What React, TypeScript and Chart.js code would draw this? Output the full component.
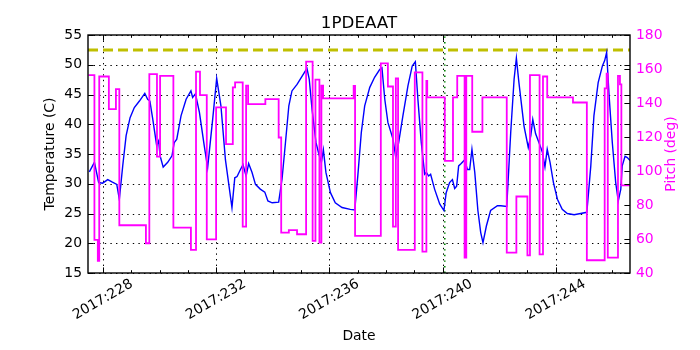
import React, { useEffect, useRef } from 'react';
import { Chart, registerables } from 'chart.js';

Chart.register(...registerables);

const FONT = '"DejaVu Sans", sans-serif';
const TICK_SIZE = 13.9;
const LABEL_SIZE = 13.9;
const TITLE_SIZE = 16.7;

const TITLE = '1PDEAAT';
const X_LABEL = 'Date';
const Y_LABEL = 'Temperature (C)';
const Y2_LABEL = 'Pitch (deg)';
const YEAR = '2017';

const X_MIN = 227.473;
const X_MAX = 246.625;
const X_MAJOR_TICKS = [228, 232, 236, 240, 244];
const X_MINOR_TICKS = [229, 230, 231, 233, 234, 235, 237, 238, 239, 241, 242, 243, 245, 246];
const TEMP_TICKS = [15, 20, 25, 30, 35, 40, 45, 50, 55];
const PITCH_TICKS = [40, 60, 80, 100, 120, 140, 160, 180];

const TEMP_LIMIT = 52.5;
const MARKER_DAY = 240.08;

const tempDays = [
  227.52, 227.70, 227.85, 227.99, 228.17, 228.32, 228.49, 228.58, 228.70, 228.82,
  228.96, 229.11, 229.29, 229.48, 229.58, 229.66, 229.76, 229.90, 229.97, 230.02,
  230.13, 230.29, 230.44, 230.52, 230.61, 230.76, 230.94, 231.11, 231.17, 231.27,
  231.41, 231.58, 231.70, 231.88, 232.02, 232.17, 232.33, 232.56, 232.66, 232.74,
  232.86, 232.95, 233.06, 233.15, 233.27, 233.39, 233.56, 233.72, 233.83, 233.98,
  234.21, 234.33, 234.45, 234.57, 234.68, 234.86, 235.04, 235.21, 235.29, 235.39,
  235.53, 235.63, 235.72, 235.79, 235.88, 236.04, 236.21, 236.45, 236.74, 236.90,
  237.01, 237.13, 237.25, 237.43, 237.60, 237.78, 237.86, 237.96, 238.07, 238.25,
  238.35, 238.45, 238.60, 238.78, 238.93, 239.04, 239.13, 239.25, 239.37, 239.43,
  239.51, 239.58, 239.72, 239.90, 240.05, 240.13, 240.25, 240.35, 240.43, 240.50,
  240.57, 240.66, 240.78, 240.88, 240.96, 241.04, 241.14, 241.25, 241.35, 241.43,
  241.55, 241.70, 241.94, 242.06, 242.27, 242.41, 242.53, 242.61, 242.70, 242.88,
  243.03, 243.12, 243.19, 243.29, 243.41, 243.53, 243.62, 243.70, 243.80, 243.92,
  244.06, 244.23, 244.41, 244.65, 244.88, 245.10, 245.24, 245.35, 245.50, 245.65,
  245.73, 245.80, 245.88, 246.00, 246.12, 246.21, 246.30, 246.35, 246.45, 246.53,
  246.625,
];
const tempValues = [
  32.0, 33.6, 30.2, 30.1, 30.7, 30.3, 29.9, 27.4, 33.0, 38.1,
  41.1, 42.8, 43.9, 45.2, 44.2, 43.9, 40.9, 36.4, 37.2, 34.7,
  32.8, 33.6, 34.7, 36.9, 37.5, 41.4, 44.2, 45.6, 44.5, 45.1,
  42.0, 36.4, 32.7, 40.9, 47.7, 43.1, 34.0, 26.0, 31.0, 31.2,
  32.4, 33.2, 31.3, 33.4, 31.9, 29.9, 29.1, 28.6, 27.1, 26.8,
  26.9, 30.8, 36.9, 43.1, 45.6, 46.7, 48.1, 49.4, 47.6, 42.5,
  36.9, 35.0, 33.6, 35.7, 31.9, 28.5, 26.8, 26.0, 25.7, 25.6,
  31.5, 38.6, 43.1, 46.2, 47.9, 49.2, 49.5, 44.2, 40.3, 37.5,
  34.4, 36.9, 41.4, 46.5, 49.8, 50.5, 44.2, 36.9, 31.6, 31.9,
  31.3, 31.6, 29.1, 26.6, 25.5, 28.5, 30.2, 30.7, 29.2, 29.6,
  33.0, 33.4, 34.0, 32.4, 32.4, 35.8, 31.9, 25.5, 21.8, 20.1,
  22.9, 25.5, 26.3, 26.3, 26.2, 38.6, 47.6, 51.1, 47.0, 39.7,
  36.1, 38.1, 40.8, 38.4, 36.9, 35.3, 32.8, 35.8, 33.6, 30.2,
  27.4, 25.7, 25.0, 24.8, 25.0, 25.2, 33.0, 41.4, 47.0, 49.8,
  50.7, 52.1, 45.3, 36.9, 30.2, 27.1, 29.1, 33.0, 34.6, 34.4,
  33.9,
];

const pitchDays = [
  227.49, 227.70, 227.82, 227.87, 228.21, 228.46, 228.58, 229.52, 229.64, 229.91,
  230.02, 230.49, 231.11, 231.29, 231.43, 231.67, 232.00, 232.35, 232.59, 232.67,
  232.94, 233.06, 233.13, 233.74, 234.21, 234.30, 234.57, 234.86, 235.18, 235.41,
  235.51, 235.65, 235.72, 235.78, 236.86, 236.91, 237.82, 238.07, 238.25, 238.35,
  238.43, 239.02, 239.29, 239.43, 239.46, 240.08, 240.37, 240.52, 240.78, 240.84,
  241.05, 241.41, 242.27, 242.61, 243.00, 243.09, 243.43, 243.55, 243.70, 244.61,
  245.10, 245.73, 245.80, 245.84, 246.20, 246.27, 246.32, 246.625,
];
const pitchValues = [
  156.4, 59.5, 47.1, 155.6, 136.4, 148.2, 68.1, 57.5, 157.0, 108.5,
  156.0, 66.7, 53.6, 158.4, 144.6, 59.8, 137.4, 115.8, 149.2, 152.1,
  67.3, 150.2, 139.3, 142.3, 119.7, 63.8, 65.2, 62.8, 164.3, 58.9,
  153.7, 57.9, 150.2, 142.7, 150.0, 61.8, 163.3, 149.7, 67.3, 154.4,
  53.6, 158.0, 52.6, 153.0, 143.3, 106.0, 143.3, 156.0, 49.1, 156.0,
  123.1, 143.3, 52.0, 85.0, 50.4, 156.4, 51.0, 155.6, 143.3, 140.3,
  47.5, 148.6, 157.2, 49.1, 156.0, 151.0, 91.6, 91.6,
];

const crisp = (v: number) => Math.round(v) + 0.5;

const decorPlugin = {
  id: 'decor',
  beforeDatasetsDraw(chart: any) {
    const { ctx, chartArea: a } = chart;
    const xs = chart.scales.x;
    const ys = chart.scales.y;
    ctx.save();
    ctx.strokeStyle = '#000';
    ctx.lineWidth = 1;
    ctx.setLineDash([1.4, 4.2]);
    ctx.beginPath();
    X_MAJOR_TICKS.forEach((t) => {
      const p = crisp(xs.getPixelForValue(t));
      ctx.moveTo(p, a.top);
      ctx.lineTo(p, a.bottom);
    });
    TEMP_TICKS.forEach((t) => {
      const p = crisp(ys.getPixelForValue(t));
      ctx.moveTo(a.left, p);
      ctx.lineTo(a.right, p);
    });
    ctx.stroke();
    ctx.restore();
  },
  afterDatasetsDraw(chart: any) {
    const { ctx, chartArea: a } = chart;
    const xs = chart.scales.x;
    const ys = chart.scales.y;
    const y2 = chart.scales.y2;
    const MAJ = 5.6;
    const MIN = 2.8;
    ctx.save();
    ctx.setLineDash([]);
    ctx.strokeStyle = '#000';
    ctx.lineWidth = 1;
    ctx.beginPath();
    const seg = (x1: number, y1: number, x2: number, y2_: number) => {
      ctx.moveTo(x1, y1);
      ctx.lineTo(x2, y2_);
    };
    X_MAJOR_TICKS.forEach((t) => {
      const p = crisp(xs.getPixelForValue(t));
      seg(p, a.bottom, p, a.bottom - MAJ);
      seg(p, a.top, p, a.top + MAJ);
    });
    X_MINOR_TICKS.forEach((t) => {
      const p = crisp(xs.getPixelForValue(t));
      seg(p, a.bottom, p, a.bottom - MIN);
      seg(p, a.top, p, a.top + MIN);
    });
    TEMP_TICKS.forEach((t) => {
      const p = crisp(ys.getPixelForValue(t));
      seg(a.left, p, a.left + MAJ, p);
      seg(a.right, p, a.right - MAJ, p);
    });
    PITCH_TICKS.forEach((t) => {
      const p = crisp(y2.getPixelForValue(t));
      seg(a.right, p, a.right - MAJ, p);
    });
    ctx.stroke();

    // frame
    ctx.lineWidth = 1.4;
    ctx.strokeRect(a.left, a.top, a.right - a.left, a.bottom - a.top);

    // x tick labels, rotated 30 deg, centred on tick
    ctx.fillStyle = '#000';
    ctx.font = `${TICK_SIZE}px ${FONT}`;
    const ang = (30 * Math.PI) / 180;
    X_MAJOR_TICKS.forEach((t) => {
      const label = `${YEAR}:${t}`;
      const w = ctx.measureText(label).width;
      const h = TICK_SIZE * 1.164;
      const H = w * Math.sin(ang) + h * Math.cos(ang);
      const cx = xs.getPixelForValue(t);
      const cy = a.bottom + 3 + H / 2;
      ctx.save();
      ctx.translate(cx, cy);
      ctx.rotate(-ang);
      ctx.textAlign = 'center';
      ctx.textBaseline = 'middle';
      ctx.fillText(label, 0, 0);
      ctx.restore();
    });

    // title
    const midX = (a.left + a.right) / 2;
    const midY = (a.top + a.bottom) / 2;
    ctx.font = `${TITLE_SIZE}px ${FONT}`;
    ctx.textAlign = 'center';
    ctx.textBaseline = 'alphabetic';
    ctx.fillText(TITLE, midX, 28);

    // x label
    ctx.font = `${LABEL_SIZE}px ${FONT}`;
    ctx.textBaseline = 'middle';
    ctx.fillText(X_LABEL, midX, 336);

    // y labels
    ctx.save();
    ctx.translate(50.5, midY);
    ctx.rotate(-Math.PI / 2);
    ctx.fillText(Y_LABEL, 0, 0);
    ctx.restore();

    ctx.save();
    ctx.fillStyle = '#ff00ff';
    ctx.translate(671.5, midY);
    ctx.rotate(-Math.PI / 2);
    ctx.fillText(Y2_LABEL, 0, 0);
    ctx.restore();

    ctx.restore();
  },
};

export default function App() {
  const ref = useRef<HTMLCanvasElement>(null);

  useEffect(() => {
    const tempData = tempDays.map((d, i) => ({ x: d, y: tempValues[i] }));
    const pitchData = pitchDays.map((d, i) => ({ x: d, y: pitchValues[i] }));
    const limitData = [
      { x: X_MIN, y: TEMP_LIMIT },
      { x: X_MAX, y: TEMP_LIMIT },
    ];
    const markerData = [
      { x: MARKER_DAY, y: TEMP_TICKS[0] },
      { x: MARKER_DAY, y: TEMP_TICKS[TEMP_TICKS.length - 1] },
    ];

    const chart = new Chart(ref.current as HTMLCanvasElement, {
      type: 'line',
      data: {
        datasets: [
          {
            label: 'Pitch',
            data: pitchData,
            yAxisID: 'y2',
            borderColor: '#ff00ff',
            borderWidth: 1.8,
            pointRadius: 0,
            stepped: 'before',
            fill: false,
            order: 0,
          },
          {
            label: 'Temperature',
            data: tempData,
            yAxisID: 'y',
            borderColor: '#0000ff',
            borderWidth: 1.4,
            pointRadius: 0,
            tension: 0,
            fill: false,
            order: 1,
          },
          {
            label: 'Limit',
            data: limitData,
            yAxisID: 'y',
            borderColor: '#bfbf00',
            borderWidth: 3,
            borderDash: [10, 5],
            pointRadius: 0,
            fill: false,
            order: 2,
          },
          {
            label: 'Marker',
            data: markerData,
            yAxisID: 'y',
            borderColor: '#008000',
            borderWidth: 1.6,
            borderDash: [1.4, 4.2],
            pointRadius: 0,
            fill: false,
            order: 3,
          },
        ],
      },
      options: {
        animation: false,
        responsive: false,
        devicePixelRatio: 1,
        events: [],
        layout: { padding: { top: 35, bottom: 77, left: 0, right: 0 } },
        plugins: {
          legend: { display: false },
          title: { display: false },
          tooltip: { enabled: false },
        },
        scales: {
          x: {
            type: 'linear',
            display: false,
            min: X_MIN,
            max: X_MAX,
          },
          y: {
            type: 'linear',
            position: 'left',
            min: TEMP_TICKS[0],
            max: TEMP_TICKS[TEMP_TICKS.length - 1],
            grid: { display: false, drawTicks: false },
            border: { display: false },
            ticks: {
              color: '#000',
              font: { family: FONT, size: TICK_SIZE },
              padding: 6,
            },
            afterBuildTicks: (s: any) => {
              s.ticks = TEMP_TICKS.map((v) => ({ value: v }));
            },
            afterFit: (s: any) => {
              s.width = 88;
            },
          },
          y2: {
            type: 'linear',
            position: 'right',
            min: PITCH_TICKS[0],
            max: PITCH_TICKS[PITCH_TICKS.length - 1],
            grid: { display: false, drawTicks: false },
            border: { display: false },
            ticks: {
              color: '#ff00ff',
              font: { family: FONT, size: TICK_SIZE },
              padding: 6,
            },
            afterBuildTicks: (s: any) => {
              s.ticks = PITCH_TICKS.map((v) => ({ value: v }));
            },
            afterFit: (s: any) => {
              s.width = 70;
            },
          },
        },
      } as any,
      plugins: [decorPlugin],
    });
    return () => chart.destroy();
  }, []);

  return (
    <div style={{ position: 'fixed', left: 0, top: 0, width: 700, height: 350, background: '#fff' }}>
      <canvas ref={ref} width={700} height={350} style={{ display: 'block', width: 700, height: 350 }} />
    </div>
  );
}
